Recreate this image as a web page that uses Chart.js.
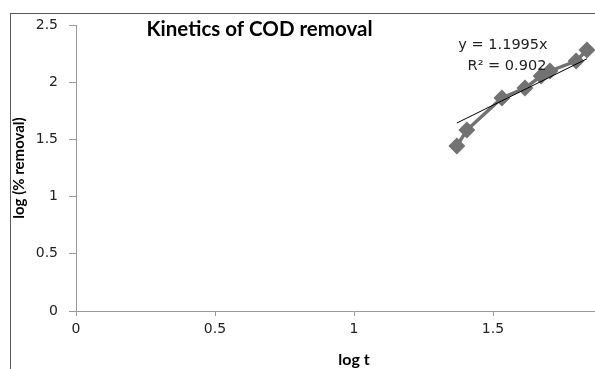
<!DOCTYPE html>
<html>
<head>
<meta charset="utf-8">
<script src="https://cdn.jsdelivr.net/npm/chart.js@4.4.1/dist/chart.umd.min.js"></script>
<style>
  html, body { margin: 0; padding: 0; background: #fff; overflow: hidden; width: 595px; height: 369px; }
  #frame { position: absolute; left: 10px; top: 13px; width: 700px; height: 400px; border: 1px solid #595959; box-sizing: border-box; }
  #wrap { position: absolute; left: 0; top: 0; width: 660px; height: 369px; }
</style>
</head>
<body>
<div id="frame"></div>
<div id="wrap"><canvas id="c" width="660" height="369"></canvas></div>
<script>
const chartTitle = "Kinetics of COD removal";
const xAxisTitle = "log t";
const yAxisTitle = "log (% removal)";
const logT = [1.370, 1.406, 1.532, 1.615, 1.673, 1.705, 1.799, 1.838];
const logRemoval = [1.442, 1.582, 1.862, 1.949, 2.054, 2.098, 2.185, 2.281];
const trendSlope = 1.1995;
const equationLabel = "y = 1.1995x";
const r2Label = "R² = 0.902";
const xTicks = [0, 0.5, 1, 1.5, 2];
const yTicks = [0, 0.5, 1, 1.5, 2, 2.5];

const points = logT.map((x, i) => ({ x: x, y: logRemoval[i] }));
const xMin = Math.min(...logT), xMax = Math.max(...logT);
const trend = [{ x: xMin, y: trendSlope * xMin }, { x: xMax, y: trendSlope * xMax }];

const textPlugin = {
  id: 'texts',
  afterDraw(chart) {
    const ctx = chart.ctx;
    ctx.save();
    ctx.fillStyle = '#000';
    ctx.font = 'bold 20.5px Lato, sans-serif';
    ctx.textAlign = 'center';
    ctx.textBaseline = 'alphabetic';
    ctx.fillText(chartTitle, 259.5, 35.5);
    ctx.fillStyle = '#222';
    ctx.font = '14.5px "DejaVu Sans", sans-serif';
    ctx.textBaseline = 'middle';
    ctx.fillText(equationLabel, 503, 45);
    ctx.fillText(r2Label, 507, 66);
    ctx.restore();
  }
};

const tickFont = { family: '"DejaVu Sans", sans-serif', size: 14 };

new Chart(document.getElementById('c'), {
  type: 'scatter',
  data: {
    datasets: [
      {
        data: points,
        showLine: true,
        borderColor: '#727272',
        backgroundColor: '#727272',
        borderWidth: 3.5,
        pointStyle: 'rectRot',
        pointRadius: 6,
        pointHoverRadius: 6,
        order: 2
      },
      {
        data: trend,
        showLine: true,
        borderColor: '#000',
        borderWidth: 1,
        pointRadius: 0,
        order: 1
      }
    ]
  },
  options: {
    responsive: false,
    animation: false,
    events: [],
    layout: { padding: { left: 10, top: 25, right: 28, bottom: 0 } },
    plugins: { legend: { display: false }, tooltip: { enabled: false } },
    scales: {
      x: {
        type: 'linear', min: 0, max: 2,
        afterBuildTicks: s => { s.ticks = xTicks.map(v => ({ value: v })); },
        afterFit: s => { s.height = 58; },
        grid: { display: true, drawOnChartArea: false, drawTicks: true, tickLength: 5, color: '#9a9a9a' },
        border: { color: '#9a9a9a', width: 1 },
        ticks: { color: '#222', font: tickFont, padding: 5, maxRotation: 0, callback: v => String(v) },
        title: { display: true, text: xAxisTitle, color: '#000', font: { family: 'Lato, sans-serif', size: 16, weight: 'bold' }, padding: { top: 7, bottom: 0 } }
      },
      y: {
        type: 'linear', min: 0, max: 2.5,
        afterBuildTicks: s => { s.ticks = yTicks.map(v => ({ value: v })); },
        afterFit: s => { s.width = 66; },
        grid: { display: true, drawOnChartArea: false, drawTicks: true, tickLength: 7, color: '#9a9a9a' },
        border: { color: '#9a9a9a', width: 1 },
        ticks: { color: '#222', font: tickFont, padding: 11, callback: v => String(v) },
        title: { display: true, text: yAxisTitle, color: '#000', font: { family: 'Lato, sans-serif', size: 15, weight: 'bold' }, padding: { top: 0, bottom: 0 } }
      }
    }
  },
  plugins: [textPlugin]
});
</script>
</body>
</html>
